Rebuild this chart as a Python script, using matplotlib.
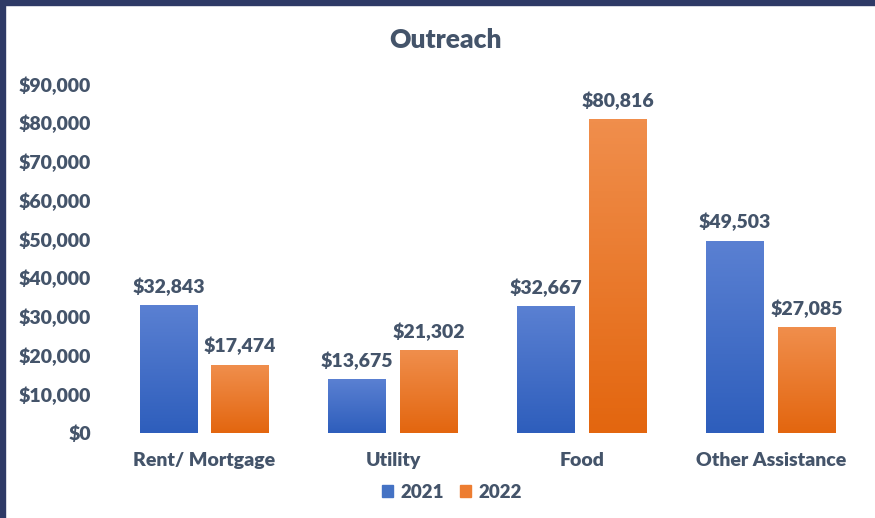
import numpy as np
import matplotlib.pyplot as plt
from matplotlib.patches import Rectangle, Patch
from matplotlib.colors import LinearSegmentedColormap

categories = ["Rent/ Mortgage", "Utility", "Food", "Other Assistance"]
years = ["2021", "2022"]
vals_2021 = [32843, 13675, 32667, 49503]
vals_2022 = [17474, 21302, 80816, 27085]
yticks = [0, 10000, 20000, 30000, 40000, 50000, 60000, 70000, 80000, 90000]

txt = "#44546A"
fw = "heavy"
plt.rcParams['font.family'] = ['Lato', 'DejaVu Sans']
plt.rcParams['font.weight'] = fw

fig = plt.figure(figsize=(8.75, 5.18), dpi=100)
ax = fig.add_axes([110/875, 1-433/518, 755/875, 349/518])

x = np.arange(len(categories))
w = 0.307
off = 0.19
b1 = ax.bar(x - off, vals_2021, w, color="#4472C4", zorder=2)
b2 = ax.bar(x + off, vals_2022, w, color="#ED7D31", zorder=2)

# excel-like vertical gradient fill
blue = LinearSegmentedColormap.from_list("b", ["#2E5EBC", "#5A80D2"])
orng = LinearSegmentedColormap.from_list("o", ["#E3660F", "#F08E4C"])
grad = np.linspace(0, 1, 100).reshape(-1, 1)
for bars, cm in [(b1, blue), (b2, orng)]:
    for r in bars:
        r.set_visible(False)
        ax.imshow(grad, cmap=cm, origin="lower", aspect="auto", zorder=3,
                  extent=[r.get_x(), r.get_x() + r.get_width(), 0, r.get_height()])
        ax.annotate(f"${r.get_height():,.0f}", (r.get_x() + r.get_width()/2, r.get_height()),
                    xytext=(0, 7), textcoords="offset points", ha="center", va="bottom",
                    color=txt, fontsize=14, fontweight=fw)

ax.set_xlim(-0.5, len(categories) - 0.5)
ax.set_ylim(0, 90000)
ax.set_yticks(yticks)
ax.set_yticklabels([f"${v:,}" for v in yticks])
ax.set_xticks(x)
ax.set_xticklabels(categories)
ax.tick_params(axis="both", length=0, colors=txt, labelsize=14)
ax.tick_params(axis="y", pad=13.5)
ax.tick_params(axis="x", pad=14)
for s in ax.spines.values():
    s.set_visible(False)

fig.text(446/875, 1-40/518, "Outreach", ha="center", va="center", color=txt,
         fontsize=19, fontweight=fw)

handles = [Patch(color="#4472C4"), Patch(color="#ED7D31")]
fig.legend(handles, years, loc="center", bbox_to_anchor=(452/875, 1-492/518), ncol=2,
           frameon=False, fontsize=13.5, labelcolor=txt, handlelength=0.55, handleheight=0.55,
           handletextpad=0.4, columnspacing=0.9)

fig.patches.append(Rectangle((0, 0), 5/875, 1, transform=fig.transFigure, color="#2E3A66", zorder=10))
fig.patches.append(Rectangle((0, 1-5/518), 1, 5/518, transform=fig.transFigure, color="#2E3A66", zorder=10))

fig.savefig("out.png", dpi=100)
